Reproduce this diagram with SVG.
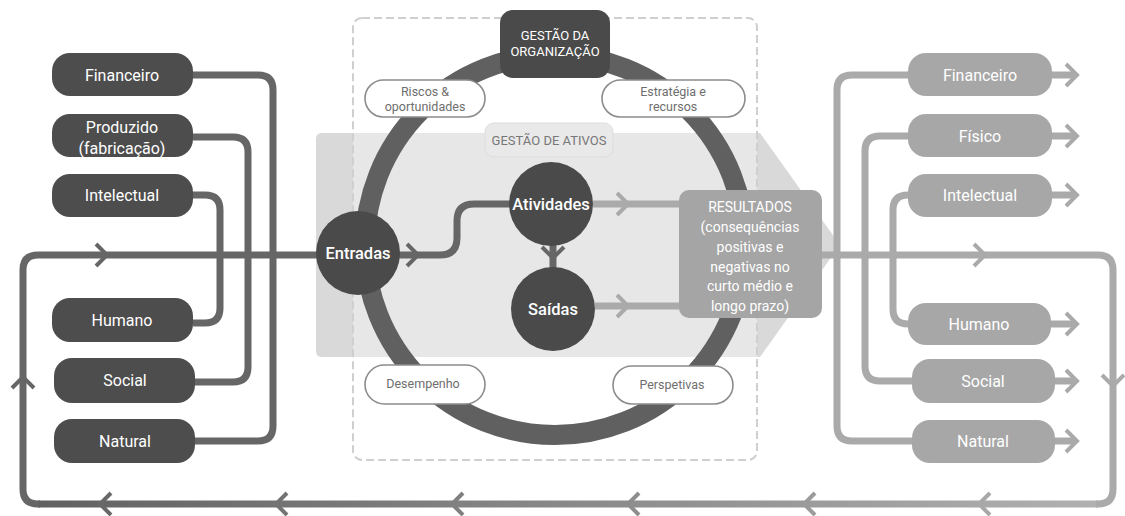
<svg xmlns="http://www.w3.org/2000/svg" width="1125" height="516" viewBox="0 0 1125 516">
  <defs>
    <style>
      .lbl { font-family: Roboto, "Liberation Sans", sans-serif; text-anchor: middle; }
      .node-dark { fill: #4d4d4d; }
      .node-light { fill: #a7a7a7; }
      .w { fill: #ffffff; font-size: 16px; }
      .pill { fill: #ffffff; stroke: #8c8c8c; stroke-width: 1.6; }
      .pill-t { fill: #6e6e6e; font-size: 12.5px; }
      .dk { fill: none; stroke: #666666; stroke-width: 7; }
      .lt { fill: none; stroke: #aaaaaa; stroke-width: 7; }
      .chev-dk { fill: none; stroke: #666666; stroke-width: 4; stroke-linejoin: miter; }
      .chev-lt { fill: none; stroke: #aaaaaa; stroke-width: 4; stroke-linejoin: miter; }
      .hub { fill: #4a4a4a; }
      .hub-t { fill: #ffffff; font-size: 16.5px; font-weight: 500; }
    </style>
    <linearGradient id="loopGrad" gradientUnits="userSpaceOnUse" x1="23" y1="0" x2="1113" y2="0">
      <stop offset="0" stop-color="#606060"/>
      <stop offset="1" stop-color="#b2b2b2"/>
    </linearGradient>
    <!-- chevron pointing right, tip at origin -->
    <path id="chev" d="M-11,-11 L0,0 L-11,11"/>
  </defs>

  <rect width="1125" height="516" fill="#ffffff"/>

  <!-- asset-management band (arrow shape) -->
  <path d="M322,133 H760 L840,245 L760,357 H322 Q316,357 316,351 V139 Q316,133 322,133 Z" fill="#d9d9d9"/>

  <!-- dashed organisation frame -->
  <rect x="353" y="18" width="404" height="442" rx="9" fill="#ffffff" fill-opacity="0.38" stroke="#cfcfcf" stroke-width="2" stroke-dasharray="8 4"/>

  <!-- governance ring -->
  <circle cx="555" cy="245" r="190" fill="none" stroke="#606060" stroke-width="20"/>

  <g id="gestao-ativos">
    <rect x="485" y="123" width="128" height="34" rx="9" fill="#e9e9e9" stroke="#dddddd" stroke-width="1"/>
    <text class="lbl" x="549" y="145" fill="#777777" font-size="13">GESTÃO DE ATIVOS</text>
  </g>

  <!-- connectors -->
  <g id="connectors">
    <!-- inputs: left capitals -->
    <path class="dk" d="M193,75 H258 Q273,75 273,90 V426 Q273,441 258,441 H195"/>
    <path class="dk" d="M193,137 H233 Q248,137 248,152 V367 Q248,382 233,382 H195"/>
    <path class="dk" d="M193,195 H205 Q220,195 220,210 V308 Q220,323 205,323 H193"/>

    <!-- value loop -->
    <path class="dk" d="M360,255 H38 Q23,255 23,270 V489 Q23,504 38,504 H40"/>
    <path d="M38,504 H1098" fill="none" stroke="url(#loopGrad)" stroke-width="7"/>
    <path class="lt" d="M820,255 H1098 Q1113,255 1113,270 V489 Q1113,504 1098,504 H1096"/>

    <!-- outputs: right capitals -->
    <path class="lt" d="M910,75 H852 Q837,75 837,90 V426 Q837,441 852,441 H914"/>
    <path class="lt" d="M910,136 H880 Q865,136 865,151 V366 Q865,381 880,381 H914"/>
    <path class="lt" d="M910,195 H908 Q893,195 893,210 V309 Q893,324 908,324 H910"/>
    <path class="lt" d="M1050,75 H1074 M1050,136 H1074 M1050,195 H1074 M1050,324 H1074 M1053,381 H1074 M1053,441 H1074"/>

    <!-- business model flow -->
    <path class="dk" d="M398,255 H440 Q457,255 457,238 V221 Q457,204 474,204 H510"/>
    <path class="dk" d="M553,244 V270"/>
    <path class="lt" d="M593,204 H681 M595,306 H681"/>

    <!-- arrowheads -->
    <use href="#chev" class="chev-dk" transform="translate(107,255)"/>
    <use href="#chev" class="chev-dk" transform="translate(23,377) rotate(-90)"/>
    <use href="#chev" class="chev-dk" transform="translate(418,255)"/>
    <use href="#chev" class="chev-dk" transform="translate(553,258) rotate(90)"/>
    <use href="#chev" class="chev-lt" transform="translate(628,204)"/>
    <use href="#chev" class="chev-lt" transform="translate(628,306)"/>
    <use href="#chev" class="chev-lt" transform="translate(985,255)"/>
    <use href="#chev" class="chev-lt" transform="translate(1113,386) rotate(90)"/>
    <use href="#chev" style="fill:none;stroke:#686868;stroke-width:4" transform="translate(100,504) rotate(180)"/>
    <use href="#chev" style="fill:none;stroke:#737373;stroke-width:4" transform="translate(276,504) rotate(180)"/>
    <use href="#chev" style="fill:none;stroke:#808080;stroke-width:4" transform="translate(452,504) rotate(180)"/>
    <use href="#chev" style="fill:none;stroke:#8d8d8d;stroke-width:4" transform="translate(628,504) rotate(180)"/>
    <use href="#chev" style="fill:none;stroke:#9b9b9b;stroke-width:4" transform="translate(804,504) rotate(180)"/>
    <use href="#chev" style="fill:none;stroke:#a8a8a8;stroke-width:4" transform="translate(979,504) rotate(180)"/>
    <use href="#chev" class="chev-lt" transform="translate(1077,75)"/>
    <use href="#chev" class="chev-lt" transform="translate(1077,136)"/>
    <use href="#chev" class="chev-lt" transform="translate(1077,195)"/>
    <use href="#chev" class="chev-lt" transform="translate(1077,324)"/>
    <use href="#chev" class="chev-lt" transform="translate(1077,381)"/>
    <use href="#chev" class="chev-lt" transform="translate(1077,441)"/>
  </g>

  <!-- input capitals -->
  <g id="in-financeiro"><rect class="node-dark" x="52" y="53" width="141" height="43" rx="18"/><text class="lbl w" x="122" y="81">Financeiro</text></g>
  <g id="in-produzido"><rect class="node-dark" x="52" y="114" width="141" height="43" rx="18"/><text class="lbl w" x="122" y="133">Produzido</text><text class="lbl w" x="122" y="154">(fabricação)</text></g>
  <g id="in-intelectual"><rect class="node-dark" x="52" y="174" width="141" height="43" rx="18"/><text class="lbl w" x="122" y="201">Intelectual</text></g>
  <g id="in-humano"><rect class="node-dark" x="52" y="298" width="141" height="44" rx="18"/><text class="lbl w" x="122" y="326">Humano</text></g>
  <g id="in-social"><rect class="node-dark" x="54" y="358" width="141" height="45" rx="18"/><text class="lbl w" x="125" y="386">Social</text></g>
  <g id="in-natural"><rect class="node-dark" x="54" y="419" width="141" height="44" rx="18"/><text class="lbl w" x="125" y="447">Natural</text></g>

  <!-- output capitals -->
  <g id="out-financeiro"><rect class="node-light" x="908" y="53" width="144" height="43" rx="18"/><text class="lbl w" x="980" y="81">Financeiro</text></g>
  <g id="out-fisico"><rect class="node-light" x="908" y="114" width="144" height="43" rx="18"/><text class="lbl w" x="980" y="142">Físico</text></g>
  <g id="out-intelectual"><rect class="node-light" x="908" y="174" width="144" height="43" rx="18"/><text class="lbl w" x="980" y="201">Intelectual</text></g>
  <g id="out-humano"><rect class="node-light" x="908" y="303" width="143" height="42" rx="18"/><text class="lbl w" x="979" y="330">Humano</text></g>
  <g id="out-social"><rect class="node-light" x="912" y="359" width="143" height="44" rx="18"/><text class="lbl w" x="983" y="387">Social</text></g>
  <g id="out-natural"><rect class="node-light" x="912" y="420" width="143" height="43" rx="18"/><text class="lbl w" x="983" y="447">Natural</text></g>

  <!-- governance -->
  <g id="gestao-organizacao">
    <rect x="500" y="10" width="110" height="68" rx="13" fill="#4a4a4a"/>
    <text class="lbl" x="555" y="40" fill="#ffffff" font-size="13">GESTÃO DA</text>
    <text class="lbl" x="555" y="56" fill="#ffffff" font-size="13">ORGANIZAÇÃO</text>
  </g>
  <g id="riscos"><rect class="pill" x="365" y="80" width="120" height="37" rx="18.5"/><text class="lbl pill-t" x="425" y="96">Riscos &amp;</text><text class="lbl pill-t" x="425" y="111">oportunidades</text></g>
  <g id="estrategia"><rect class="pill" x="602" y="80" width="143" height="37" rx="18.5"/><text class="lbl pill-t" x="673" y="96">Estratégia e</text><text class="lbl pill-t" x="673" y="111">recursos</text></g>
  <g id="desempenho"><rect class="pill" x="365" y="365" width="120" height="39" rx="19.5"/><text class="lbl pill-t" x="423" y="388">Desempenho</text></g>
  <g id="perspetivas"><rect class="pill" x="613" y="366" width="120" height="38" rx="19"/><text class="lbl pill-t" x="672" y="389">Perspetivas</text></g>

  <!-- business model -->
  <g id="entradas"><circle class="hub" cx="358" cy="253" r="42"/><text class="lbl hub-t" x="358" y="259">Entradas</text></g>
  <g id="atividades"><circle class="hub" cx="551" cy="204" r="42"/><text class="lbl hub-t" x="551" y="210">Atividades</text></g>
  <g id="saidas"><circle class="hub" cx="553" cy="309" r="42"/><text class="lbl hub-t" x="553" y="315">Saídas</text></g>

  <g id="resultados">
    <rect x="679" y="190" width="143" height="128" rx="10" fill="#a5a5a5"/>
    <g class="lbl" fill="#ffffff" font-size="14">
      <text x="750" y="212">RESULTADOS</text>
      <text x="750" y="232">(consequências</text>
      <text x="750" y="252">positivas e</text>
      <text x="750" y="272">negativas no</text>
      <text x="750" y="291">curto médio e</text>
      <text x="750" y="311">longo prazo)</text>
    </g>
  </g>
</svg>
